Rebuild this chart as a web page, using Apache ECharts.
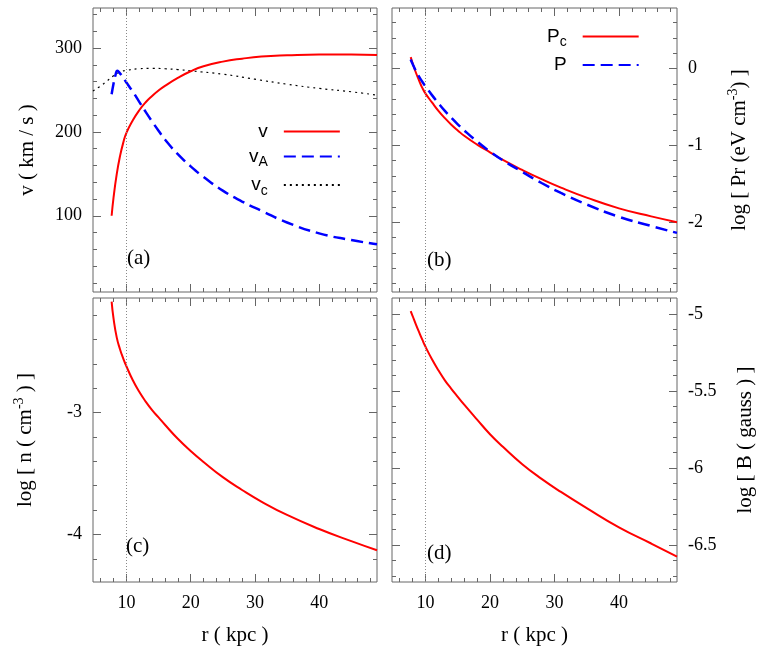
<!DOCTYPE html>
<html>
<head>
<meta charset="utf-8">
<script src="https://cdn.jsdelivr.net/npm/echarts@6/dist/echarts.min.js"></script>
<style>
  html, body { margin: 0; padding: 0; background: #fff; }
  #main { width: 768px; height: 654px; }
</style>
</head>
<body>
<div id="main"></div>
<script>
// radius (kpc) grid used by v, Pc, P, n, B
const radius = [7.7, 8, 8.5, 9, 9.5, 10, 11, 12, 13, 14, 15, 16, 18, 20, 22, 25, 28, 31, 35, 40, 45, 49];
const vFlow = [100, 122, 150, 171, 187, 199, 214, 226, 235.5, 243, 249.5, 255, 264.5, 272.5, 278.5, 284, 287.5, 290, 291.5, 292.5, 292.5, 292];
// alfven speed
const radiusA = [7.7, 8, 8.3, 8.6, 9, 9.5, 10, 11, 12, 13, 14, 15, 16, 18, 20, 22, 25, 28, 31, 35, 40, 45, 49];
const vAlfven = [245, 258, 268, 273, 270, 265, 259, 248, 236, 224, 212.5, 201.5, 191, 173.5, 159, 146.5, 130, 117, 106, 92, 79, 71, 66];
// circular speed
const radiusC = [4.8, 6, 7, 8, 9, 10, 12, 14, 16, 18, 20, 25, 30, 35, 40, 45, 49];
const vCirc = [249, 255, 261, 267, 271.5, 273.5, 275.5, 276, 275.5, 274.5, 273, 269, 263, 257, 252, 248, 244];
// log pressures
const logPc = [0.15, 0.07, -0.05, -0.155, -0.25, -0.325, -0.44, -0.55, -0.645, -0.73, -0.805, -0.875, -0.99, -1.09, -1.19, -1.32, -1.44, -1.55, -1.68, -1.82, -1.925, -2.0];
const logP = [0.12, 0.06, -0.03, -0.105, -0.17, -0.23, -0.345, -0.45, -0.55, -0.64, -0.725, -0.805, -0.95, -1.08, -1.195, -1.345, -1.49, -1.62, -1.77, -1.93, -2.05, -2.14];
// log density, log field
const logN = [-2.09, -2.23, -2.385, -2.48, -2.555, -2.62, -2.735, -2.83, -2.91, -2.98, -3.04, -3.10, -3.215, -3.315, -3.405, -3.53, -3.635, -3.73, -3.84, -3.955, -4.055, -4.13];
const logB = [-4.98, -5.012, -5.066, -5.117, -5.166, -5.212, -5.293, -5.365, -5.43, -5.485, -5.537, -5.588, -5.685, -5.78, -5.862, -5.975, -6.07, -6.155, -6.26, -6.385, -6.49, -6.575];

// ticks
const rMajor = [10, 20, 30, 40];
const rMinor = [6, 8, 12, 14, 16, 18, 22, 24, 26, 28, 32, 34, 36, 38, 42, 44, 46, 48];
const vMajor = [100, 200, 300];
const vMinor = [20, 40, 60, 80, 120, 140, 160, 180, 220, 240, 260, 280, 320, 340];
const pMajor = [-2, -1, 0];
const pMinor = [-2.8, -2.6, -2.4, -2.2, -1.8, -1.6, -1.4, -1.2, -0.8, -0.6, -0.4, -0.2, 0.2, 0.4, 0.6];
const nMajor = [-4, -3];
const nMinor = [-4.2, -3.8, -3.6, -3.4, -3.2, -2.8, -2.6, -2.4, -2.2];
const bMajor = [-6.5, -6, -5.5, -5];
const bMinor = [-6.7, -6.6, -6.4, -6.3, -6.2, -6.1, -5.9, -5.8, -5.7, -5.6, -5.4, -5.3, -5.2, -5.1];

const rMin = 4.8, rMax = 49;
const serif = 'Liberation Serif';
const sans = 'Liberation Sans';
const tickColor = '#666';

const grids = [
  { left: 93, top: 8, width: 284, height: 284 },
  { left: 392, top: 8, width: 285, height: 284 },
  { left: 93, top: 298, width: 284, height: 284 },
  { left: 392, top: 298, width: 285, height: 284 }
].map(g => Object.assign(g, { show: true, borderColor: tickColor, borderWidth: 1, backgroundColor: 'transparent' }));

const xAxes = [], yAxes = [];
const supRich = { sup: { fontFamily: serif, fontSize: 14, padding: [0, 0, 12, 0] } };

function tickAxis(pos, vals, len) {
  return { position: pos, axisTick: { show: true, inside: true, length: len, customValues: vals, lineStyle: { color: tickColor, width: 1 } } };
}

function addX(grid, labels) {
  const base = { type: 'value', gridIndex: grid, min: rMin, max: rMax, splitLine: { show: false },
    axisLine: { show: false, onZero: false }, axisLabel: { show: false } };
  const idx = xAxes.length;
  const main = Object.assign({}, base, tickAxis('bottom', rMajor, 8));
  if (labels) {
    main.axisLabel = { show: true, customValues: rMajor, margin: 12, fontFamily: serif, fontSize: 18, color: '#000' };
    main.name = 'r ( kpc )';
    main.nameLocation = 'middle';
    main.nameGap = 43;
    main.nameTextStyle = { fontFamily: serif, fontSize: 21, color: '#000' };
  }
  xAxes.push(main);
  xAxes.push(Object.assign({}, base, tickAxis('bottom', rMinor, 4)));
  xAxes.push(Object.assign({}, base, tickAxis('top', rMajor, 8)));
  xAxes.push(Object.assign({}, base, tickAxis('top', rMinor, 4)));
  return idx;
}

function addY(grid, min, max, major, minor, side, name, gap) {
  const other = side === 'left' ? 'right' : 'left';
  const base = { type: 'value', gridIndex: grid, min: min, max: max, splitLine: { show: false },
    axisLine: { show: false, onZero: false }, axisLabel: { show: false } };
  const idx = yAxes.length;
  const main = Object.assign({}, base, tickAxis(side, major, 8), {
    axisLabel: { show: true, customValues: major, margin: 11, fontFamily: serif, fontSize: 18, color: '#000' },
    name: name, nameLocation: 'middle', nameGap: gap,
    nameTextStyle: { fontFamily: serif, fontSize: 21, color: '#000', rich: supRich }
  });
  yAxes.push(main);
  yAxes.push(Object.assign({}, base, tickAxis(side, minor, 4)));
  yAxes.push(Object.assign({}, base, tickAxis(other, major, 8)));
  yAxes.push(Object.assign({}, base, tickAxis(other, minor, 4)));
  return idx;
}

const xa = addX(0, false), xb = addX(1, false), xc = addX(2, true), xd = addX(3, true);
const ya = addY(0, 9, 348, vMajor, vMinor, 'left', 'v ( km / s )', 55);
const yb = addY(1, -2.91, 0.79, pMajor, pMinor, 'right', 'log [ Pr (eV cm{sup|-3}) ]', 49);
const yc = addY(2, -4.39, -2.06, nMajor, nMinor, 'left', 'log [ n ( cm{sup|-3} ) ]', 55);
const yd = addY(3, -6.74, -4.895, bMajor, bMinor, 'right', 'log [ B ( gauss ) ]', 58);

const red = '#ff0000', blue = '#0000ff';
const marker = {
  silent: true, symbol: ['none', 'none'], label: { show: false },
  lineStyle: { color: '#888', type: [1, 2], width: 1 }, data: [{ xAxis: 10 }]
};
const pairs = (xs, ys) => xs.map((x, i) => [x, ys[i]]);

function line(name, xi, yi, data, color, width, type, mark) {
  const s = {
    name: name, type: 'line', xAxisIndex: xi, yAxisIndex: yi, data: data,
    symbol: 'none', smooth: 0.5,
    lineStyle: { color: color, width: width, type: type }, itemStyle: { color: color }
  };
  if (mark) s.markLine = marker;
  return s;
}

const series = [
  line('vc', xa, ya, pairs(radiusC, vCirc), '#000', 1.2, [2, 4], true),
  line('v', xa, ya, pairs(radius, vFlow), red, 2, 'solid'),
  line('vA', xa, ya, pairs(radiusA, vAlfven), blue, 2.5, [12, 6]),
  line('Pc', xb, yb, pairs(radius, logPc), red, 2, 'solid', true),
  line('P', xb, yb, pairs(radius, logP), blue, 2.5, [12, 6]),
  line('n', xc, yc, pairs(radius, logN), red, 2, 'solid', true),
  line('B', xd, yd, pairs(radius, logB), red, 2, 'solid', true)
];

const subRich = {
  m: { fontFamily: sans, fontSize: 19, color: '#000' },
  sub: { fontFamily: sans, fontSize: 14, color: '#000', padding: [12, 0, 0, 0] }
};
const legendLabel = { v: '{m|v}', vA: '{m|v}{sub|A}', vc: '{m|v}{sub|c}', Pc: '{m|P}{sub|c}', P: '{m|P}' };
function legendAt(names, left, top) {
  return {
    data: names, orient: 'vertical', left: left, top: top, align: 'right', selectedMode: false,
    itemWidth: 56, itemHeight: 14, itemGap: 6,
    itemStyle: { opacity: 0 },
    formatter: n => legendLabel[n],
    textStyle: { width: 30, align: 'right', padding: [0, 11, 0, 0], rich: subRich }
  };
}

const labelText = (t, x, y) => ({
  type: 'text', left: x, top: y,
  style: { text: t, font: '21px "Liberation Serif"', fill: '#000' }
});

const chart = echarts.init(document.getElementById('main'));
chart.setOption({
  animation: false,
  backgroundColor: '#fff',
  grid: grids,
  xAxis: xAxes,
  yAxis: yAxes,
  legend: [legendAt(['v', 'vA', 'vc'], 244, 117), legendAt(['Pc', 'P'], 542, 22)],
  graphic: [
    labelText('(a)', 127, 248),
    labelText('(b)', 427, 250),
    labelText('(c)', 126, 536),
    labelText('(d)', 427, 543)
  ],
  series: series
});
</script>
</body>
</html>
